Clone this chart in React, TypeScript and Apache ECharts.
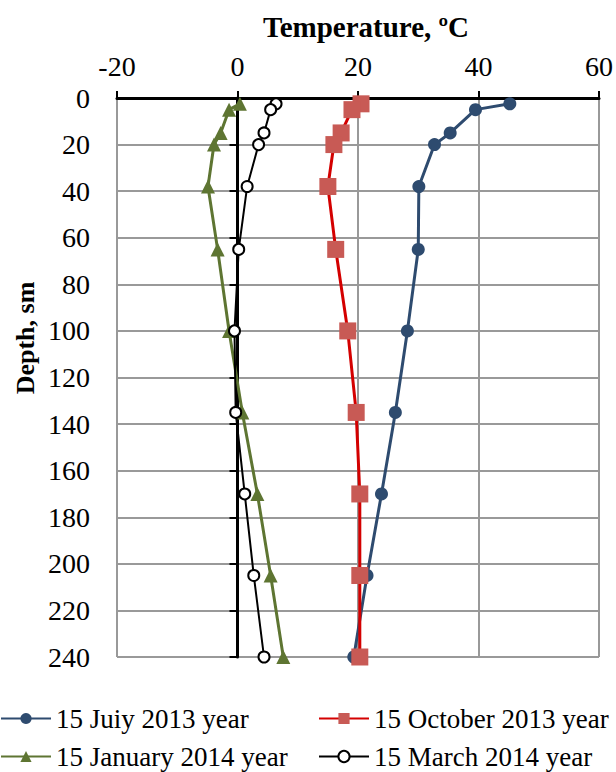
import React, { useEffect, useRef } from "react";
import * as echarts from "echarts";

const depths = [2.5, 5, 15, 20, 38, 65, 100, 135, 170, 205, 240];
const julyTemps = [45.2, 39.5, 35.3, 32.7, 30.1, 30.0, 28.2, 26.2, 23.9, 21.5, 19.3];
const octoberTemps = [20.5, 19.0, 17.2, 16.0, 15.0, 16.3, 18.3, 19.7, 20.3, 20.3, 20.3];
const januaryTemps = [0.4, -1.4, -2.8, -3.9, -4.9, -3.3, -1.4, 0.8, 3.3, 5.5, 7.6];
const marchTemps = [6.4, 5.5, 4.4, 3.5, 1.6, 0.2, -0.5, -0.3, 1.2, 2.7, 4.4];

const seriesNames = [
  "15 Juiy 2013 year",
  "15 October 2013 year",
  "15 January 2014 year",
  "15 March 2014 year",
];

const xTitle = "Temperature, ºC";
const yTitle = "Depth, sm";

const FONT = "Liberation Serif";
const FS = 28;

function pairs(temps: number[]) {
  return temps.map((t, i) => [t, depths[i]]);
}

export default function App() {
  const ref = useRef<HTMLDivElement>(null);
  useEffect(() => {
    if (!ref.current) return;
    const chart = echarts.init(ref.current, undefined, { renderer: "svg" });
    const legendText = { fontFamily: FONT, fontSize: 27, color: "#000" };
    const legendPos = [
      { left: 0, top: 705 },
      { left: 318, top: 705 },
      { left: 0, top: 743 },
      { left: 318, top: 743 },
    ];
    const labelRich = {
      v: { fontFamily: FONT, fontSize: FS, color: "#000" },
    };
    chart.setOption({
      animation: false,
      backgroundColor: "#fff",
      textStyle: { fontFamily: FONT },
      grid: { left: 117, right: 15, top: 98, bottom: 115 },
      title: {
        text: xTitle,
        left: 361,
        top: 7,
        textAlign: "center",
        textStyle: { fontFamily: FONT, fontSize: 29, fontWeight: "bold", color: "#000" },
      },
      graphic: [
        {
          type: "text",
          x: 25,
          y: 338,
          rotation: Math.PI / 2,
          style: {
            text: yTitle,
            fontFamily: FONT,
            fontSize: 26,
            fontWeight: "bold",
            fill: "#000",
            textAlign: "center",
            textVerticalAlign: "middle",
          },
        },
      ],
      legend: seriesNames.map((name, i) => ({
        left: legendPos[i].left,
        top: legendPos[i].top,
        padding: 0,
        itemWidth: 50,
        itemHeight: 14,
        itemGap: 6,
        textStyle: legendText,
        data: [name],
      })),
      xAxis: {
        type: "value",
        position: "top",
        min: -20,
        max: 60,
        interval: 20,
        axisLine: { onZero: false, lineStyle: { color: "#000", width: 3 } },
        axisTick: { show: true, length: 7, lineStyle: { color: "#000", width: 2 } },
        axisLabel: {
          fontFamily: FONT,
          fontSize: FS,
          color: "#000",
          margin: 18,
          formatter: "{v|{value}}",
          rich: labelRich,
        },
        splitLine: { show: true, lineStyle: { color: "#999", width: 2 } },
      },
      yAxis: [
        {
          type: "value",
          inverse: true,
          min: 0,
          max: 240,
          interval: 20,
          axisLine: { show: false, onZero: false },
          axisTick: { show: false },
          axisLabel: {
            fontFamily: FONT,
            fontSize: FS,
            color: "#000",
            margin: 27,
            formatter: "{v|{value}}",
            rich: labelRich,
          },
          splitLine: { show: true, lineStyle: { color: "#999", width: 2 } },
        },
        {
          type: "value",
          inverse: true,
          min: 0,
          max: 240,
          interval: 20,
          position: "left",
          axisLine: { show: true, onZero: true, lineStyle: { color: "#000", width: 3 } },
          axisTick: { show: true, length: 8, lineStyle: { color: "#000", width: 2 } },
          axisLabel: { show: false },
          splitLine: { show: false },
        },
      ],
      series: [
        {
          name: seriesNames[0],
          type: "line",
          data: pairs(julyTemps),
          symbol: "circle",
          symbolSize: 13,
          lineStyle: { color: "#2E4B6F", width: 3 },
          itemStyle: { color: "#2E4B6F" },
          z: 3,
        },
        {
          name: seriesNames[1],
          type: "line",
          data: pairs(octoberTemps),
          symbol: "rect",
          symbolSize: 17,
          lineStyle: { color: "#D40000", width: 3 },
          itemStyle: { color: "#C85A55" },
          z: 4,
        },
        {
          name: seriesNames[2],
          type: "line",
          data: pairs(januaryTemps),
          symbol: "triangle",
          symbolSize: 14,
          lineStyle: { color: "#5E7532", width: 3 },
          itemStyle: { color: "#5E7532" },
          z: 3,
        },
        {
          name: seriesNames[3],
          type: "line",
          data: pairs(marchTemps),
          symbol: "emptyCircle",
          symbolSize: 11,
          lineStyle: { color: "#000", width: 2 },
          itemStyle: { color: "#000", borderWidth: 2 },
          z: 5,
        },
      ],
    });
    return () => chart.dispose();
  }, []);
  return (
    <div
      ref={ref}
      style={{ position: "fixed", left: 0, top: 0, width: 616, height: 772, background: "#fff" }}
    />
  );
}
